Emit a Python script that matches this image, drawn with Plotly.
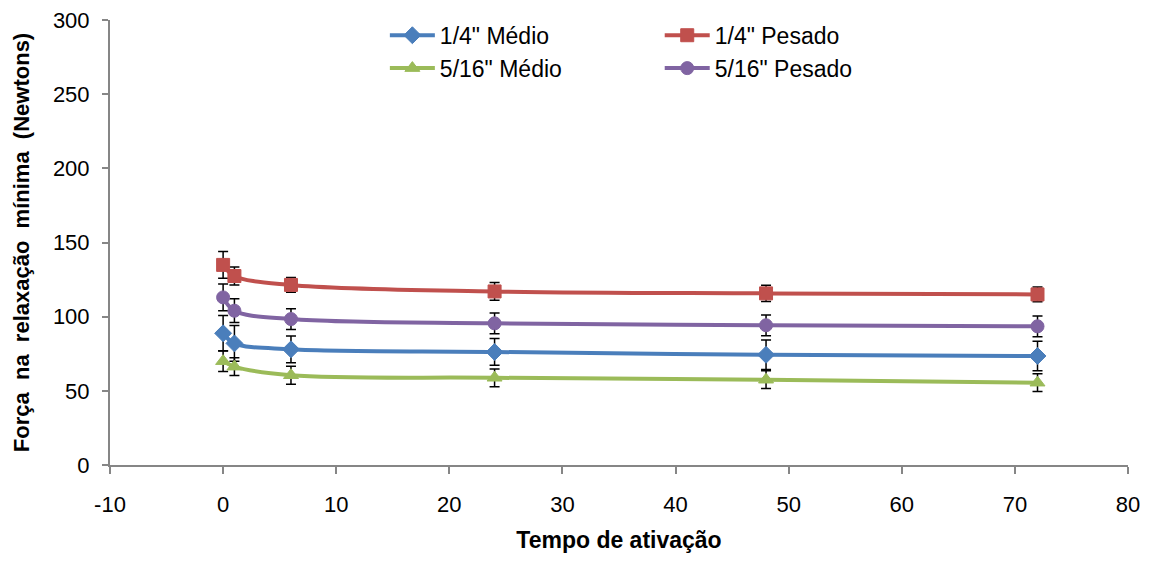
import plotly.graph_objects as go

x_hours = [0, 1, 6, 24, 48, 72]

medio_14 = [88.8, 82.0, 78.0, 76.2, 74.3, 73.5]
pesado_14 = [134.9, 127.4, 121.4, 117.0, 115.7, 115.0]
medio_516 = [70.0, 66.3, 60.5, 58.8, 57.5, 55.5]
pesado_516 = [113.0, 104.0, 98.4, 95.5, 94.2, 93.5]

err_medio_14 = [12, 12, 9, 9, 10, 10]
err_pesado_14 = [9, 6, 5, 6, 5.5, 5]
err_medio_516 = [7, 6, 6, 6, 6, 6]
err_pesado_516 = [9, 8, 7, 7, 7, 7]

names = ['1/4" Médio', '1/4" Pesado', '5/16" Médio', '5/16" Pesado']
series = [medio_14, pesado_14, medio_516, pesado_516]
errors = [err_medio_14, err_pesado_14, err_medio_516, err_pesado_516]
colors = ['#4A7EBB', '#C0504D', '#9BBB59', '#8064A2']
symbols = ['diamond', 'square', 'triangle-up', 'circle']
legends = ['legend', 'legend2', 'legend', 'legend2']

x_ticks = [-10, 0, 10, 20, 30, 40, 50, 60, 70, 80]
y_ticks = [0, 50, 100, 150, 200, 250, 300]

fig = go.Figure()
for name, ys, es, c, s, lg in zip(names, series, errors, colors, symbols, legends):
    fig.add_trace(go.Scatter(
        x=x_hours, y=ys, name=name, mode='lines+markers',
        line=dict(color=c, width=4, shape='spline', smoothing=1.0),
        marker=dict(symbol=s, size=13, color=c,
                    line=dict(color=c, width=1)),
        error_y=dict(type='data', array=es, visible=True,
                     color='black', thickness=1.5, width=5),
        legend=lg,
    ))

fam = 'Liberation Sans, Arial, sans-serif'
tick_font = dict(family=fam, size=22, color='black')
legend_font = dict(family=fam, size=23, color='black')
xtitle_font = dict(family=fam, size=23, color='black')
ytitle_font = dict(family=fam, size=22, color='black')

# page body has an 8px margin: figure is sized/margined to compensate
fig.update_layout(
    width=1133, height=545,
    margin=dict(l=102, r=13, t=12, b=88, autoexpand=False),
    plot_bgcolor='white', paper_bgcolor='white',
    font=tick_font,
    xaxis=dict(
        range=[-10, 80], tickvals=x_ticks, ticktext=[str(v) for v in x_ticks],
        showgrid=False, zeroline=False,
        showline=True, linecolor='#868686', linewidth=2,
        ticks='outside', ticklen=7, tickwidth=2, tickcolor='#868686',
        tickfont=tick_font, ticklabelstandoff=12, ticklabeloverflow='allow',
        title=dict(text='<b>Tempo de ativação</b>', font=xtitle_font, standoff=18),
    ),
    yaxis=dict(
        range=[0, 300], tickvals=y_ticks, ticktext=[str(v) for v in y_ticks],
        showgrid=False, zeroline=False,
        showline=True, linecolor='#868686', linewidth=2,
        ticks='outside', ticklen=6, tickwidth=2, tickcolor='#868686',
        tickfont=tick_font, ticklabelstandoff=8, ticklabeloverflow='allow',
        title=dict(text='<b>Força\u00a0 na\u00a0 relaxação\u00a0 mínima\u00a0 (Newtons)</b>',
                   font=ytitle_font, standoff=17),
    ),
    legend=dict(x=0.27, y=1.014, xanchor='left', yanchor='top',
                bgcolor='rgba(0,0,0,0)', font=legend_font, itemwidth=45,
                tracegroupgap=0),
    legend2=dict(x=0.54, y=1.014, xanchor='left', yanchor='top',
                 bgcolor='rgba(0,0,0,0)', font=legend_font, itemwidth=45,
                 tracegroupgap=0),
)

fig.write_html("out.html")
